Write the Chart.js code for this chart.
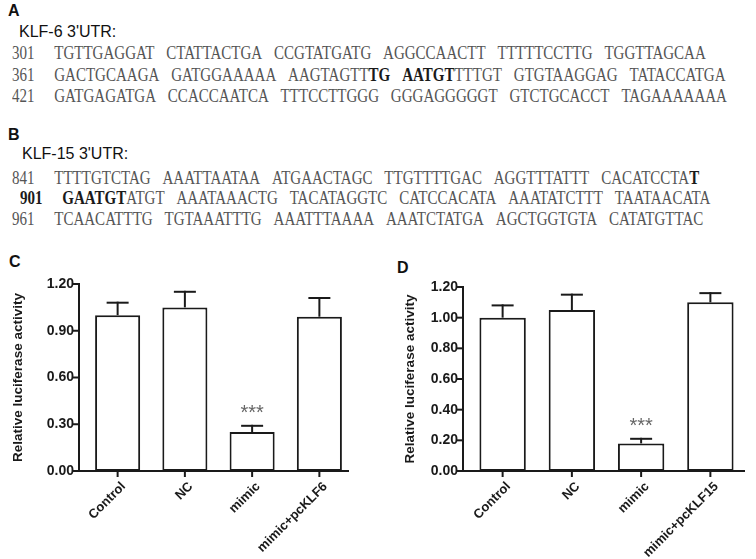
<!DOCTYPE html>
<html>
<head>
<meta charset="utf-8">
<script src="https://cdn.jsdelivr.net/npm/chart.js@4.4.1/dist/chart.umd.min.js"></script>
<style>
  html, body { margin: 0; padding: 0; background: #fff; }
  #fig { position: relative; width: 756px; height: 559px; overflow: hidden; }
  .panel { position: absolute; font: bold 16px "Liberation Sans", Arial, sans-serif; line-height: 16px; color: #111; }
  .utr { position: absolute; font: 16px "Liberation Sans", Arial, sans-serif; line-height: 16px; color: #111; }
  .row { position: absolute; left: 12px; white-space: nowrap; font: 19px "Liberation Serif", "Times New Roman", serif;
         line-height: 18px; color: #555; transform: scaleX(0.79); transform-origin: 0 0; }
  .row b { color: #1a1a1a; }
  .row .grp { margin-left: 15px; }
  .row .num + .grp { margin-left: 25px; }
  canvas { position: absolute; }
</style>
</head>
<body>
<div id="fig">
  <div class="panel" style="left:8px;top:3px">A</div>
  <div class="utr" style="left:19px;top:24px">KLF-6 3'UTR:</div>
  <div class="panel" style="left:8px;top:127px">B</div>
  <div class="utr" style="left:22px;top:146px">KLF-15 3'UTR:</div>
  <div class="panel" style="left:9px;top:254px">C</div>
  <div class="panel" style="left:397px;top:260px">D</div>
  <canvas id="chartC" width="372" height="309" style="left:0;top:250px"></canvas>
  <canvas id="chartD" width="380" height="309" style="left:376px;top:250px"></canvas>
</div>
<script>
// sequence rows, [..] marks the bold seed match
const klf6Rows = [
  ['301', 'TGTTGAGGAT CTATTACTGA CCGTATGATG AGGCCAACTT TTTTTCCTTG TGGTTAGCAA'],
  ['361', 'GACTGCAAGA GATGGAAAAA AAGTAGTT[TG] [AATGT]TTTGT GTGTAAGGAG TATACCATGA'],
  ['421', 'GATGAGATGA CCACCAATCA TTTCCTTGGG GGGAGGGGGT GTCTGCACCT TAGAAAAAAA']
]
const klf15Rows = [
  ['841', 'TTTTGTCTAG AAATTAATAA ATGAACTAGC TTGTTTTGAC AGGTTTATTT CACATCCTA[T]'],
  ['[901]', '[GAATGT]ATGT AAATAAACTG TACATAGGTC CATCCACATA AAATATCTTT TAATAACATA'],
  ['961', 'TCAACATTTG TGTAAATTTG AAATTTAAAA AAATCTATGA AGCTGGTGTA CATATGTTAC']
]

// bar data
const groupsC = ['Control', 'NC', 'mimic', 'mimic+pcKLF6']
const meanC = [1.00, 1.05, 0.25, 0.99]
const semC = [0.08, 0.10, 0.04, 0.12]
const groupsD = ['Control', 'NC', 'mimic', 'mimic+pcKLF15']
const meanD = [1.00, 1.05, 0.18, 1.10]
const semD = [0.08, 0.10, 0.03, 0.06]
const signif = ['', '', '***', '']
const ticksC = [0, 0.30, 0.60, 0.90, 1.20]
const ticksD = [0, 0.20, 0.40, 0.60, 0.80, 1.00, 1.20]

function bold(s){
    return s.replace(/\[([^\]]+)\]/g, '<b>$1</b>')
}
function addRows(rows, tops, indent){
    const fig = document.getElementById('fig')
    rows.forEach((r, i) => {
        const d = document.createElement('div')
        d.className = 'row'
        d.style.top = tops[i] + 'px'
        if (indent[i]) d.style.left = (12 + indent[i]) + 'px'
        d.innerHTML = '<span class="num">' + bold(r[0]) + '</span>' +
            r[1].split(' ').map(g => '<span class="grp">' + bold(g) + '</span>').join('')
        fig.appendChild(d)
    })
}
addRows(klf6Rows, [44, 66, 87], [0, 0, 0])
addRows(klf15Rows, [169, 189, 210], [0, 8, 0])

const ink = '#1a1a1a'
const sans = '"Liberation Sans", Arial, sans-serif'

// prism style axes, error bars and stars
const prismBits = {
    id: 'prismBits',
    afterDatasetsDraw(chart, args, o){
        const {ctx, chartArea, scales: {x, y}} = chart
        const ax = chartArea.left - 5
        const y0 = y.getPixelForValue(0)
        ctx.save()
        ctx.strokeStyle = ink
        ctx.lineWidth = 2
        ctx.lineCap = 'square'
        const seg = (a, b, c, d) => { ctx.beginPath(); ctx.moveTo(a, b); ctx.lineTo(c, d); ctx.stroke() }
        seg(ax, y.getPixelForValue(y.max), ax, y0)
        o.ticks.forEach(t => { const py = y.getPixelForValue(t); seg(ax - 5, py, ax, py) })
        seg(ax, y0, chartArea.right - o.trim, y0)
        x.ticks.forEach((t, i) => { const px = x.getPixelForValue(i); seg(px, y0, px, y0 + 5) })

        chart.getDatasetMeta(0).data.forEach((bar, i) => {
            const m = o.mean[i], e = o.sem[i]
            const top = y.getPixelForValue(m), cap = y.getPixelForValue(m + e)
            ctx.lineCap = 'butt'
            seg(bar.x, top, bar.x, cap - 1)
            seg(bar.x - 11, cap, bar.x + 11, cap)
            if (signif[i]){
                ctx.fillStyle = '#666'
                ctx.font = '20px ' + sans
                ctx.textAlign = 'center'
                ctx.textBaseline = 'middle'
                ctx.fillText(signif[i], bar.x, cap - 12)
            }
        })
        ctx.restore()
    }
}

function makeChart(id, labels, mean, sem, ticks, step, box){
    return new Chart(document.getElementById(id), {
        type: 'bar',
        data: {
            labels,
            datasets: [{
                data: mean,
                backgroundColor: '#fff',
                borderColor: ink,
                borderWidth: 2,
                borderSkipped: false,
                barPercentage: 0.67,
                categoryPercentage: 1
            }]
        },
        options: {
            responsive: false,
            animation: false,
            layout: { padding: { top: box.top, right: box.right, bottom: 0, left: 0 } },
            plugins: {
                legend: { display: false },
                tooltip: { enabled: false },
                prismBits: { mean, sem, ticks, trim: box.trim }
            },
            scales: {
                x: {
                    grid: { display: false, drawTicks: false },
                    border: { display: false },
                    ticks: {
                        autoSkip: false, minRotation: 45, maxRotation: 45, padding: 8, labelOffset: 6,
                        color: ink, font: { family: sans, size: 13, weight: 'bold' }
                    },
                    afterFit: s => { s.height = box.xh }
                },
                y: {
                    min: 0, max: 1.2,
                    grid: { display: false, drawTicks: false },
                    border: { display: false },
                    ticks: {
                        stepSize: step, padding: 10, color: ink,
                        font: { family: sans, size: 14, weight: 'bold' },
                        callback: v => v.toFixed(2)
                    },
                    title: {
                        display: true, text: 'Relative luciferase activity', color: ink,
                        font: { family: sans, size: 13.5, weight: 'bold' },
                        padding: { top: box.tpad, bottom: 0 }
                    },
                    afterFit: s => { s.width = box.yw }
                }
            }
        },
        plugins: [prismBits]
    })
}

makeChart('chartC', groupsC, meanC, semC, ticksC, 0.3, { top: 34, right: 19, xh: 88, yw: 84, tpad: 10, trim: 5 })
makeChart('chartD', groupsD, meanD, semD, ticksD, 0.2, { top: 37, right: 11, xh: 88, yw: 92, tpad: 26, trim: 1 })
</script>
</body>
</html>
